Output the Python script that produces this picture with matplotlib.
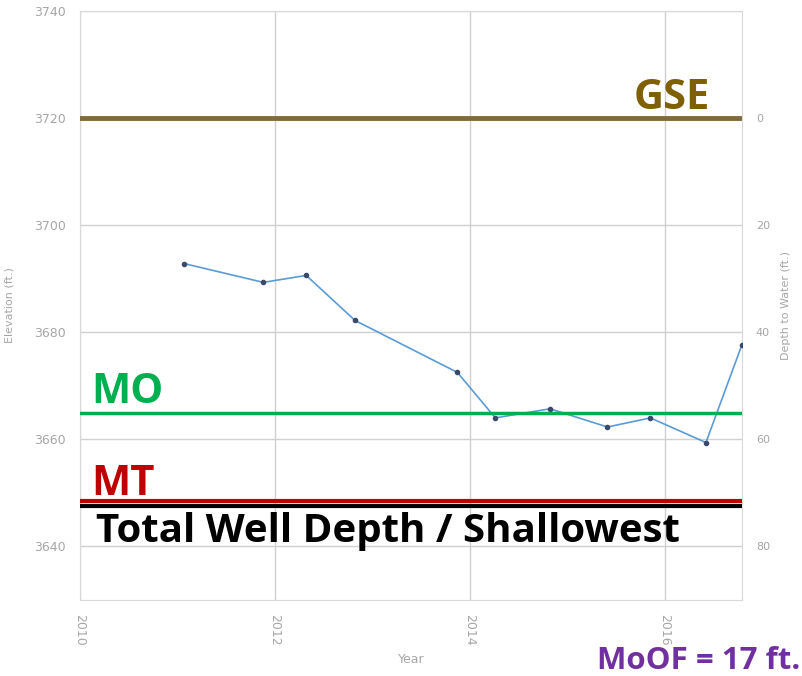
import matplotlib
matplotlib.use('Agg')
import matplotlib.pyplot as plt

# well hydrograph data
years = [2011.07, 2011.88, 2012.32, 2012.82, 2013.87, 2014.26, 2014.82, 2015.41, 2015.85, 2016.42, 2016.79]
elevation = [3692.8, 3689.3, 3690.6, 3682.2, 3672.5, 3664.0, 3665.7, 3662.3, 3664.0, 3659.4, 3677.7]

gse = 3720
mo = 3665
mt = 3648.5
total_depth = 3647.5

x_ticks = [2010, 2012, 2014, 2016]
y_ticks = [3640, 3660, 3680, 3700, 3720, 3740]
depth_ticks = [0, 20, 40, 60, 80]

TICK_GRAY = '#a6a6a6'

fig = plt.figure(figsize=(8.02, 6.76), dpi=100)
ax = fig.add_axes([0.0998, 0.1124, 0.8254, 0.8716])

ax.plot(years, elevation, color='#5b9bd5', linewidth=1.2, marker='o',
        markersize=3, markerfacecolor='#3a4a6b', markeredgecolor='#3a4a6b', zorder=3)

ax.axhline(gse, color='#7f6a3a', linewidth=3.5, zorder=4)
ax.axhline(mo, color='#00b050', linewidth=2.5, zorder=4)
ax.axhline(mt, color='#c00000', linewidth=3, zorder=4)
ax.axhline(total_depth, color='black', linewidth=3, zorder=4)

ax.set_xlim(2010, 2016.79)
ax.set_ylim(3630, 3740)
ax.set_xticks(x_ticks)
ax.set_xticklabels([str(v) for v in x_ticks], rotation=-90)
ax.set_yticks(y_ticks)
ax.grid(color='#d0d0d0', linewidth=1)
ax.set_axisbelow(True)
for s in ax.spines.values():
    s.set_color('#d9d9d9')
ax.tick_params(colors=TICK_GRAY, labelsize=9, length=0, pad=10)
ax.set_xlabel('Year', color=TICK_GRAY, fontsize=9, labelpad=5)
ax.set_ylabel('Elevation (ft.)', color=TICK_GRAY, fontsize=8, labelpad=14)

ax2 = ax.twinx()
ax2.set_ylim(gse - 3630, gse - 3740)
ax2.set_yticks(depth_ticks)
ax2.tick_params(colors=TICK_GRAY, labelsize=8, length=0, pad=10)
for s in ax2.spines.values():
    s.set_visible(False)
ax2.set_ylabel('Depth to Water (ft.)', color=TICK_GRAY, fontsize=8, labelpad=8)

bold = dict(fontfamily='Open Sans', fontweight='bold', va='baseline')
fig.text(634 / 802, 1 - 109 / 676, 'GSE', color='#7f6000', fontsize=30, **bold)
fig.text(91 / 802, 1 - 403 / 676, 'MO', color='#00b050', fontsize=30, **bold)
fig.text(91 / 802, 1 - 495 / 676, 'MT', color='#c00000', fontsize=30, **bold)
fig.text(96 / 802, 1 - 542 / 676, 'Total Well Depth / Shallowest', color='black',
         fontsize=29, **bold)
fig.text(597 / 802, 1 - 669 / 676, 'MoOF = 17 ft.', color='#7030a0', fontsize=22.5, **bold)

fig.savefig('out.png', dpi=100)
